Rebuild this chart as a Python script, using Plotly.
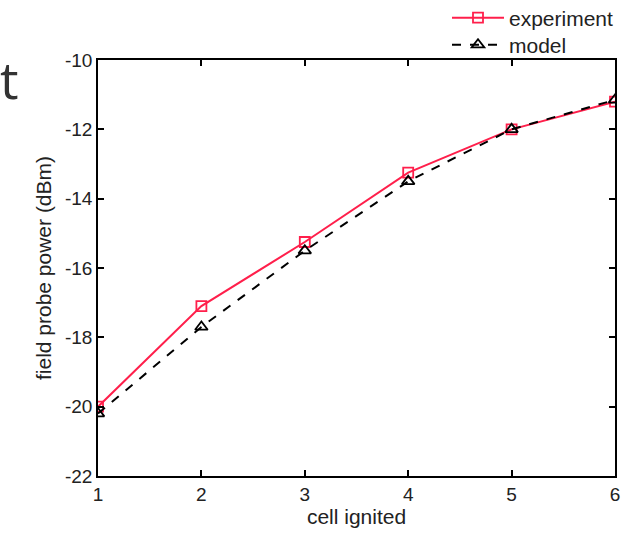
import plotly.graph_objects as go

# Cells ignited and measured / modelled field-probe power (dBm)
cells = [1, 2, 3, 4, 5, 6]
experiment = [-20.0, -17.1, -15.25, -13.25, -12.0, -11.2]
model = [-20.2, -17.7, -15.5, -13.5, -12.0, -11.15]

x_ticks = [1, 2, 3, 4, 5, 6]
y_ticks = [-22, -20, -18, -16, -14, -12, -10]

FONT = "Liberation Sans, Arial, sans-serif"
RED = "#ff1f4b"
W, H = 623, 537

fig = go.Figure()
fig.add_trace(go.Scatter(
    x=cells, y=experiment, name="experiment", mode="lines+markers",
    line=dict(color=RED, width=2),
    marker=dict(symbol="square-open", size=10, color=RED, line=dict(width=1.8)),
    legend="legend",
))
fig.add_trace(go.Scatter(
    x=cells, y=model, name="model", mode="lines+markers",
    line=dict(color="black", width=2, dash="dash"),
    marker=dict(symbol="triangle-up-open", size=11, color="black", line=dict(width=1.8)),
    legend="legend2",
))

axis_common = dict(
    showline=True, linecolor="black", linewidth=1.5, mirror="ticks",
    ticks="inside", ticklen=6, tickwidth=1.5, tickcolor="black",
    showgrid=False, zeroline=False,
    tickfont=dict(family=FONT, size=19, color="#222"),
)

fig.update_xaxes(
    range=[1, 6], tickvals=x_ticks, ticktext=[str(v) for v in x_ticks],
    title=dict(text="cell ignited", font=dict(family=FONT, size=21, color="#222"), standoff=6),
    **axis_common,
)
fig.update_yaxes(
    range=[-22, -10], tickvals=y_ticks, ticktext=[str(v) for v in y_ticks],
    title=dict(text="field probe power (dBm)", font=dict(family=FONT, size=21, color="#222"), standoff=8),
    **axis_common,
)

fig.add_annotation(
    text="t", xref="paper", yref="paper", x=-0.148, y=0.955,
    xanchor="right", yanchor="middle", showarrow=False,
    font=dict(family="Open Sans, sans-serif", size=52, color="#333"),
)

legend_style = dict(
    xref="container", yref="container", xanchor="left", yanchor="middle",
    font=dict(family=FONT, size=21, color="#222"),
    bgcolor="rgba(0,0,0,0)", itemwidth=52,
)

fig.update_layout(
    width=W, height=H,
    margin=dict(l=98, r=8, t=60, b=61, autoexpand=False),
    paper_bgcolor="white", plot_bgcolor="white",
    showlegend=True,
    legend=dict(x=447 / W, y=1 - 18 / H, **legend_style),
    legend2=dict(x=447 / W, y=1 - 45 / H, **legend_style),
)

fig.write_html("out.html")
